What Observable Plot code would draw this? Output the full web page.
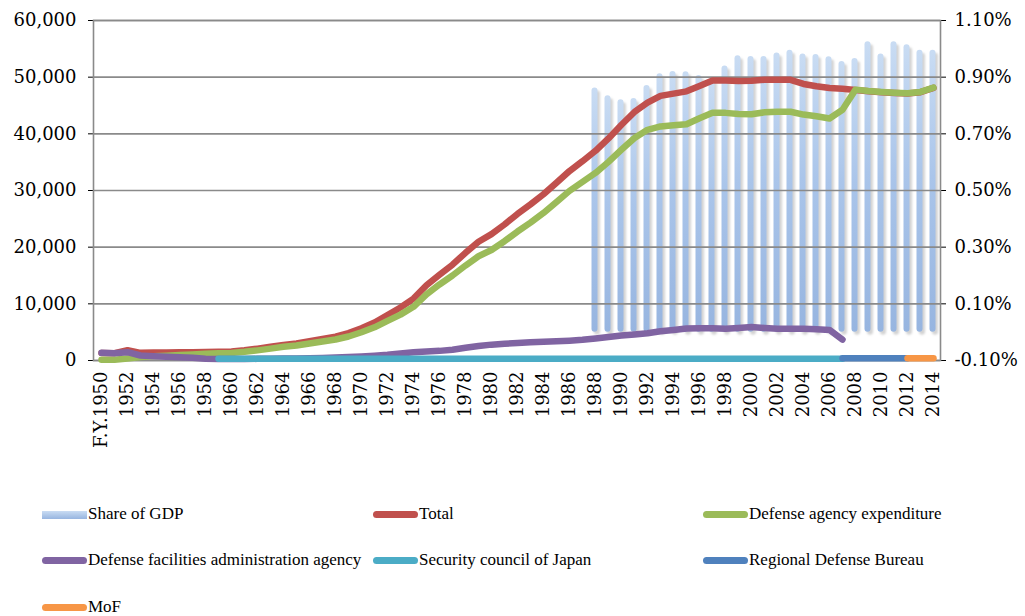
<!DOCTYPE html>
<html><head><meta charset="utf-8">
<script src="https://cdn.jsdelivr.net/npm/d3@7"></script>
<script src="https://cdn.jsdelivr.net/npm/@observablehq/plot@0.6"></script>
<style>
body{margin:0;background:#fff;}
#wrap{position:relative;width:1025px;height:616px;overflow:hidden;}
#wrap svg{position:absolute;left:0;top:0;}
.leg{position:absolute;font-family:"Liberation Serif",serif;font-size:17px;color:#000;white-space:nowrap;line-height:20px;}
.sw{position:absolute;height:7px;border-radius:4px;}
</style></head><body><div id="wrap"></div>
<script>
// ---- categories ----
const years = [1950,1951,1952,1953,1954,1955,1956,1957,1958,1959,1960,1961,1962,1963,1964,1965,1966,1967,1968,1969,
1970,1971,1972,1973,1974,1975,1976,1977,1978,1979,1980,1981,1982,1983,1984,1985,1986,1987,1988,1989,
1990,1991,1992,1993,1994,1995,1996,1997,1998,1999,2000,2001,2002,2003,2004,2005,2006,2007,2008,2009,
2010,2011,2012,2013,2014];
const labelYears = [1950,1952,1954,1956,1958,1960,1962,1964,1966,1968,1970,1972,1974,1976,1978,1980,1982,1984,1986,1988,1990,1992,1994,1996,1998,2000,2002,2004,2006,2008,2010,2012,2014];
const leftTicks = [0,10000,20000,30000,40000,50000,60000];
const rightTicks = [-0.1,0.1,0.3,0.5,0.7,0.9,1.1];

// ---- series (one value per year, null = no data) ----
const totalValues = [1310,1300,1800,1350,1400,1400,1450,1450,1500,1560,1600,1803,2085,2412,2751,3014,3407,3809,4221,4838,
5695,6709,8002,9355,10930,13273,15124,16906,19010,20945,22302,24000,25861,27542,29346,31371,33435,35174,37003,39198,
41593,43860,45518,46700,47100,47500,48455,49414,49397,49322,49358,49553,49560,49530,48800,48400,48100,47950,47750,47500,
47350,47200,47100,47350,48100];
const agencyValues = [150,150,350,600,750,850,950,1050,1200,1300,1330,1530,1790,2100,2410,2640,3000,3350,3700,4240,
4990,5860,7000,8100,9480,11670,13420,15000,16760,18400,19500,21050,22760,24340,26050,27970,29935,31520,33100,35050,
37200,39260,40700,41300,41500,41700,42750,43700,43700,43500,43450,43800,43900,43900,43400,43100,42700,44250,47800,47550,
47400,47250,47150,47400,48150];
const facilitiesValues = [1350,1290,1470,880,760,650,590,470,290,250,260,270,290,310,340,370,410,460,520,600,
700,850,1000,1250,1450,1600,1700,1900,2250,2550,2800,2950,3100,3200,3300,3400,3500,3650,3900,4150,
4400,4600,4800,5150,5400,5650,5700,5700,5600,5750,5900,5750,5600,5600,5600,5500,5400,3700,null,null,
null,null,null,null,null];
const securityValues = [null,null,null,null,null,null,null,null,null,300,300,300,300,300,300,300,300,300,300,300,
300,300,300,300,300,300,300,300,300,300,300,300,300,300,300,300,300,300,300,300,
300,300,300,300,300,300,300,300,300,300,300,300,300,300,300,300,300,300,null,null,
null,null,null,null,null];
const regionalValues = [null,null,null,null,null,null,null,null,null,null,null,null,null,null,null,null,null,null,null,null,
null,null,null,null,null,null,null,null,null,null,null,null,null,null,null,null,null,null,null,null,
null,null,null,null,null,null,null,null,null,null,null,null,null,null,null,null,null,400,400,400,
400,400,400,null,null];
const mofValues = [null,null,null,null,null,null,null,null,null,null,null,null,null,null,null,null,null,null,null,null,
null,null,null,null,null,null,null,null,null,null,null,null,null,null,null,null,null,null,null,null,
null,null,null,null,null,null,null,null,null,null,null,null,null,null,null,null,null,null,null,null,
null,null,400,400,400];

// Share of GDP (%), right axis
const gdpYears = [1988,1989,1990,1991,1992,1993,1994,1995,1996,1997,1998,1999,2000,2001,2002,2003,2004,2005,2006,2007,2008,2009,2010,2011,2012,2013,2014];
const gdpShare = [0.862,0.834,0.820,0.825,0.871,0.912,0.920,0.919,0.906,0.892,0.939,0.976,0.973,0.973,0.985,0.995,0.982,0.980,0.972,0.955,0.966,1.025,0.982,1.025,1.014,0.995,0.995];

const seriesNames = ["Share of GDP","Total","Defense agency expenditure","Defense facilities administration agency","Security council of Japan","Regional Defense Bureau","MoF"];
const seriesColors = ["#a9c4e8","#c0504d","#9bbb59","#8064a2","#4bacc6","#4f81bd","#f79646"];
const lineValues = [totalValues, agencyValues, facilitiesValues, securityValues, regionalValues, mofValues];

// ---- layout ----
const W = 1025, H = 460;
const M = {marginLeft: 93, marginRight: 85, marginTop: 20, marginBottom: 100};
const axisStyle = {fontFamily: "DejaVu Serif, serif", fontSize: "18px", color: "#000", background: "transparent", overflow: "visible"};

const gdpData = gdpYears.map((y, i) => ({year: y, share: gdpShare[i]}));

const barPlot = Plot.plot({
  width: W, height: H, ...M,
  style: axisStyle,
  x: {type: "band", domain: years, padding: 0, axis: null},
  y: {domain: [-0.1, 1.1], axis: "right", ticks: rightTicks, tickFormat: d => d.toFixed(2) + "%", tickSize: 5, tickPadding: 9, label: null},
  marks: [
    Plot.barY(gdpData, {x: "year", y1: 0, y2: "share", fill: "#a8a8a8", fillOpacity: 0.5, dx: 2.5, dy: 3, rx: 3, insetLeft: 3.5, insetRight: 3.5}),
    Plot.barY(gdpData, {x: "year", y1: 0, y2: "share", fill: "url(#barGrad)", rx: 3, insetLeft: 3.5, insetRight: 3.5})
  ]
});
// gradient + blur defs
const defs = d3.select(barPlot).insert("defs", ":first-child");
const grad = defs.append("linearGradient").attr("id", "barGrad").attr("x1", 0).attr("y1", 0).attr("x2", 0).attr("y2", 1);
grad.append("stop").attr("offset", "0%").attr("stop-color", "#c9dcf3");
grad.append("stop").attr("offset", "45%").attr("stop-color", "#aac5ea");
grad.append("stop").attr("offset", "100%").attr("stop-color", "#97b5e0");
defs.append("filter").attr("id", "shadowBlur").attr("x", "-50%").attr("width", "200%")
  .append("feGaussianBlur").attr("stdDeviation", 1.3);
const barGroups = d3.select(barPlot).selectAll('g[aria-label="bar"]').nodes();
if (barGroups.length) barGroups[0].setAttribute("filter", "url(#shadowBlur)");

const lineMarks = lineValues.map((vals, k) =>
  Plot.lineY(years.map((y, i) => ({year: y, v: vals[i]})), {
    x: "year", y: "v", stroke: seriesColors[k + 1], strokeWidth: 6.5,
    strokeLinecap: "round", strokeLinejoin: "round"
  })
);

const linePlot = Plot.plot({
  width: W, height: H, ...M,
  style: axisStyle,
  x: {type: "point", domain: years, padding: 0.5, ticks: labelYears,
      tickFormat: d => d === 1950 ? "F.Y.1950" : String(d), tickRotate: -90, tickSize: 0, tickPadding: 11, label: null},
  y: {domain: [0, 60000], ticks: leftTicks, tickFormat: d3.format(","), tickSize: 5, tickPadding: 12, label: null},
  marks: [
    Plot.ruleY(leftTicks, {stroke: "#8a8a8a", strokeWidth: 1.6}),
    Plot.frame({stroke: "#8a8a8a", strokeWidth: 1.6}),
    ...lineMarks
  ]
});

const wrap = document.getElementById("wrap");
wrap.appendChild(barPlot);
wrap.appendChild(linePlot);

// ---- legend ----
const legPos = [[42,515],[373,515],[703,515],[42,561],[373,561],[703,561],[42,608]];
seriesNames.forEach((name, i) => {
  const [x, y] = legPos[i];
  const sw = document.createElement("div");
  sw.className = "sw";
  sw.style.left = x + "px";
  sw.style.top = (y - 4) + "px";
  sw.style.width = "45px";
  if (i === 0) {
    sw.style.borderRadius = "0";
    sw.style.height = "8px";
    sw.style.background = "linear-gradient(#c9dcf3, #97b5e0)";
  } else {
    sw.style.background = seriesColors[i];
  }
  wrap.appendChild(sw);
  const t = document.createElement("div");
  t.className = "leg";
  t.style.left = (x + 46) + "px";
  t.style.top = (y - 11) + "px";
  t.textContent = name;
  wrap.appendChild(t);
});
</script>
</body></html>
